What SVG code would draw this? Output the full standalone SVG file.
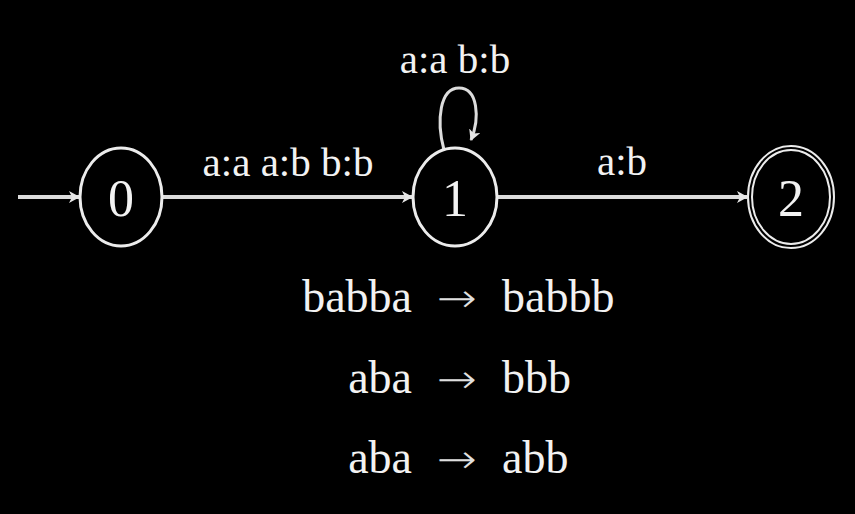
<svg xmlns="http://www.w3.org/2000/svg" width="855" height="514" viewBox="0 0 855 514">
<defs>
<marker id="ah" markerWidth="12" markerHeight="12" refX="10" refY="6" orient="auto" markerUnits="userSpaceOnUse">
<path d="M0,0 L11,6 L0,12 L3,6 Z" fill="#e6e6e6"/>
</marker>
</defs>
<style>
.st{fill:none;stroke:#ececec;stroke-width:3}
.e{fill:none;stroke:#dcdcdc;stroke-width:4}
.lbl{font-family:"Liberation Serif",serif;fill:#f2f2f2;font-size:41px;text-anchor:middle}
.num{font-family:"Liberation Serif",serif;fill:#f2f2f2;font-size:52px;text-anchor:middle}
.ex{font-family:"Liberation Serif",serif;fill:#f2f2f2;font-size:46px}
.arr{font-family:"DejaVu Sans",sans-serif;fill:#e0e0e0;font-size:40px;font-weight:200}
</style>
<rect width="855" height="514" fill="#000"/>
<g id="connectors">
<line class="e" x1="18" y1="197" x2="79" y2="197" marker-end="url(#ah)"/>
<line class="e" x1="163" y1="197" x2="412" y2="197" marker-end="url(#ah)"/>
<line class="e" x1="498" y1="197" x2="747" y2="197" marker-end="url(#ah)"/>
<path class="e" style="stroke-width:3" d="M444,150 C436,120 440,88 459,88 C478,88 480,118 471,140" marker-end="url(#ah)"/>
<text class="lbl" x="288" y="176">a:a a:b b:b</text>
<text class="lbl" x="455" y="73">a:a b:b</text>
<text class="lbl" x="622" y="175">a:b</text>
</g>
<g id="node0">
<ellipse class="st" cx="121" cy="197" rx="41" ry="49"/>
<text class="num" x="121" y="216">0</text>
</g>
<g id="node1">
<ellipse class="st" cx="455" cy="197" rx="42" ry="49"/>
<text class="num" x="455" y="216">1</text>
</g>
<g id="node2">
<ellipse class="st" style="stroke-width:2" cx="791" cy="197" rx="43" ry="51"/>
<ellipse class="st" style="stroke-width:2" cx="791" cy="197" rx="39" ry="47"/>
<text class="num" x="791" y="216">2</text>
</g>
<g id="examples">
<text class="ex" x="412" y="312" text-anchor="end">babba</text>
<text class="arr" x="437" y="312" textLength="40" lengthAdjust="spacingAndGlyphs">→</text>
<text class="ex" x="502" y="312">babbb</text>
<text class="ex" x="412" y="393" text-anchor="end">aba</text>
<text class="arr" x="437" y="393" textLength="40" lengthAdjust="spacingAndGlyphs">→</text>
<text class="ex" x="502" y="393">bbb</text>
<text class="ex" x="412" y="473" text-anchor="end">aba</text>
<text class="arr" x="437" y="473" textLength="40" lengthAdjust="spacingAndGlyphs">→</text>
<text class="ex" x="502" y="473">abb</text>
</g>
</svg>
